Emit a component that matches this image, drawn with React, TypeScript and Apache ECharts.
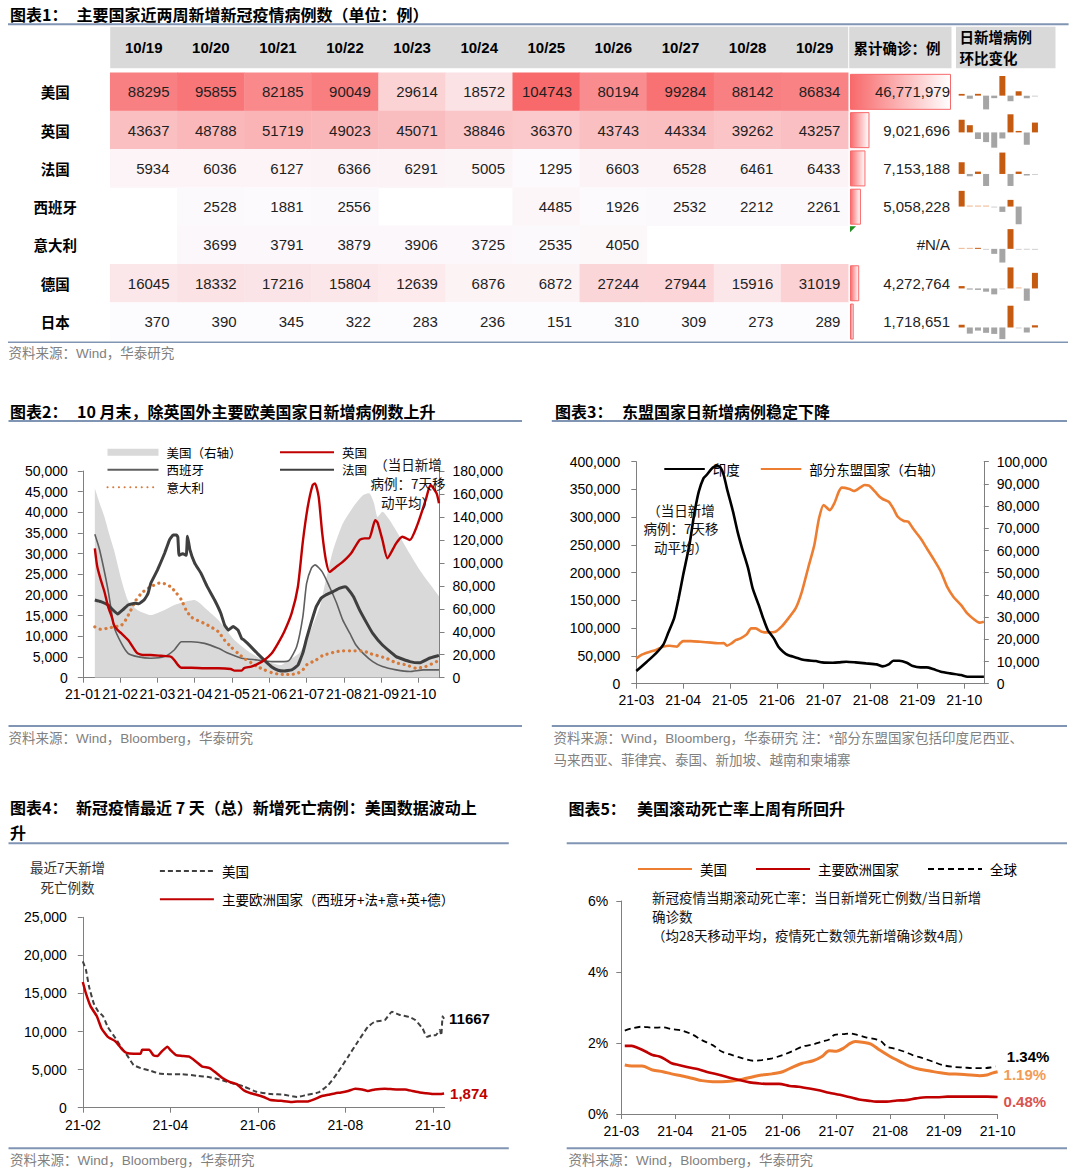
import React, { useEffect, useRef } from 'react';
import * as echarts from 'echarts';

const LATIN = "'Liberation Sans', Arial, 'Noto Sans CJK SC', sans-serif";
const CJK = "'Noto Sans CJK SC', 'Liberation Sans', sans-serif";
const LINE_BLUE = '#8095B3';

// ---------------- 图表1 ----------------
const tableDates = ['10/19', '10/20', '10/21', '10/22', '10/23', '10/24', '10/25', '10/26', '10/27', '10/28', '10/29'];
const countries = ['美国', '英国', '法国', '西班牙', '意大利', '德国', '日本'];
const usCases = [88295, 95855, 82185, 90049, 29614, 18572, 104743, 80194, 99284, 88142, 86834];
const ukCases = [43637, 48788, 51719, 49023, 45071, 38846, 36370, 43743, 44334, 39262, 43257];
const frCases = [5934, 6036, 6127, 6366, 6291, 5005, 1295, 6603, 6528, 6461, 6433];
const esCases = [null, 2528, 1881, 2556, null, null, 4485, 1926, 2532, 2212, 2261];
const itCases = [null, 3699, 3791, 3879, 3906, 3725, 2535, 4050, null, null, null];
const deCases = [16045, 18332, 17216, 15804, 12639, 6876, 6872, 27244, 27944, 15916, 31019];
const jpCases = [370, 390, 345, 322, 283, 236, 151, 310, 309, 273, 289];
const cumulative = [46771979, 9021696, 7153188, 5058228, null, 4272764, 1718651];
// 日新增病例环比变化 (sparklines)
const usSpark = [7560, -13670, 7864, -60435, -11042, 86171, -24549, 19090, -11142, -1308];
const ukSpark = [5151, 2931, -2696, -3952, -6225, -2476, 7373, 591, -5072, 3995];
const frSpark = [35, -7, 7, -36, null, 64, -36, 7, -5, -1];
const esSpark = [47, 1, 1, 1, -1, -16, 20, -53, null, null];
const itSpark = [1, 1, 3, -1, -15, -41, 59, -1, -1, -1];
const deSpark = [2287, -1116, -1412, -3165, -5763, -4, 20372, 700, -12028, 15103];
const jpSpark = [20, -45, -23, -39, -47, -85, 159, -1, -36, 16];

// ---------------- 图表2 ----------------
const months2 = ['21-01', '21-02', '21-03', '21-04', '21-05', '21-06', '21-07', '21-08', '21-09', '21-10'];
const us2 = [['01-11', 165000], ['01-15', 152000], ['01-19', 140000], ['01-23', 125000], ['01-27', 111000], ['02-02', 85000], ['02-07', 67000], ['02-14', 59000], ['02-24', 54600], ['03-07', 59000], ['03-15', 63300], ['03-23', 66000], ['04-01', 67700], ['04-05', 65000], ['04-10', 60000], ['04-20', 50200], ['05-03', 32800], ['05-17', 21200], ['05-31', 13900], ['06-10', 11000], ['06-17', 15400], ['06-25', 21200], ['07-01', 32800], ['07-12', 61800], ['07-17', 85000], ['07-23', 111000], ['07-31', 134000], ['08-09', 149000], ['08-17', 159000], ['08-22', 160600], ['08-26', 152000], ['08-29', 140000], ['09-02', 144600], ['09-08', 137000], ['09-16', 122800], ['09-24', 108000], ['10-02', 93800], ['10-10', 82200], ['10-18', 71000]];
const uk2 = [['01-11', 31300], ['01-13', 26900], ['01-16', 23600], ['01-19', 20800], ['01-22', 17200], ['01-25', 14800], ['01-27', 12700], ['01-30', 11500], ['02-02', 10700], ['02-07', 9100], ['02-12', 6700], ['02-14', 5900], ['02-18', 5500], ['02-24', 5500], ['03-04', 5300], ['03-12', 5100], ['03-15', 4300], ['03-18', 3100], ['03-21', 2400], ['03-29', 2400], ['04-09', 2300], ['04-20', 2300], ['04-30', 2100], ['05-03', 1700], ['05-09', 1700], ['05-11', 2300], ['05-17', 2700], ['05-22', 3300], ['05-28', 4300], ['06-03', 5900], ['06-08', 8300], ['06-13', 11100], ['06-19', 15600], ['06-24', 22000], ['06-28', 33000], ['07-02', 41400], ['07-06', 46600], ['07-08', 47000], ['07-11', 43800], ['07-14', 34900], ['07-17', 28500], ['07-20', 25600], ['07-26', 26900], ['07-31', 28000], ['08-07', 30100], ['08-14', 33300], ['08-18', 33700], ['08-22', 33700], ['08-27', 38100], ['08-29', 37500], ['09-02', 33300], ['09-06', 28900], ['09-13', 32500], ['09-18', 34100], ['09-24', 33300], ['09-30', 36900], ['10-07', 43000], ['10-11', 46600], ['10-16', 44600], ['10-18', 42200]];
const es2 = [['01-11', 34700], ['01-15', 30900], ['01-22', 21200], ['01-27', 12300], ['02-02', 8300], ['02-07', 5900], ['02-14', 5100], ['02-24', 4700], ['03-07', 5100], ['03-15', 6700], ['03-21', 8700], ['03-29', 8700], ['04-09', 8300], ['04-20', 7100], ['04-28', 5900], ['05-09', 4700], ['05-22', 4300], ['06-03', 3900], ['06-13', 3900], ['06-17', 4200], ['06-23', 7500], ['06-28', 14800], ['07-01', 22800], ['07-05', 26500], ['07-08', 27300], ['07-14', 25600], ['07-20', 22000], ['07-26', 18000], ['07-31', 14000], ['08-06', 10700], ['08-11', 7900], ['08-17', 5900], ['08-25', 3900], ['09-02', 2700], ['09-13', 1900], ['09-24', 1500], ['10-05', 1900], ['10-18', 1900]];
const fr2 = [['01-11', 18800], ['01-16', 18400], ['01-22', 17600], ['01-26', 16400], ['01-30', 15400], ['02-03', 16400], ['02-07', 17600], ['02-12', 18000], ['02-15', 17900], ['02-19', 18800], ['02-22', 20400], ['02-24', 22800], ['03-01', 26000], ['03-07', 30100], ['03-11', 33300], ['03-14', 34500], ['03-17', 34500], ['03-18', 34000], ['03-19', 29600], ['03-22', 30000], ['03-25', 29600], ['03-26', 34200], ['03-28', 31000], ['04-01', 27700], ['04-06', 25300], ['04-11', 22100], ['04-17', 18800], ['04-22', 15600], ['04-25', 12800], ['04-28', 11500], ['05-02', 12400], ['05-06', 11500], ['05-09', 9500], ['05-11', 9100], ['05-14', 8300], ['05-18', 7100], ['05-22', 5900], ['05-28', 4200], ['06-03', 2600], ['06-08', 1800], ['06-13', 1600], ['06-19', 1900], ['06-24', 3000], ['06-28', 6000], ['07-01', 9500], ['07-05', 13500], ['07-09', 17200], ['07-13', 19200], ['07-17', 20000], ['07-23', 20800], ['07-28', 21600], ['08-02', 22000], ['08-04', 21600], ['08-09', 19600], ['08-14', 16400], ['08-20', 13200], ['08-25', 10700], ['09-02', 7900], ['09-13', 5100], ['09-24', 3900], ['10-02', 3600], ['10-10', 4700], ['10-17', 5300], ['10-18', 5400]];
const it2 = [['01-11', 12300], ['01-16', 11700], ['01-22', 12000], ['01-27', 12300], ['02-02', 12700], ['02-05', 13900], ['02-09', 16300], ['02-13', 18800], ['02-17', 20400], ['02-20', 21200], ['02-24', 22000], ['02-28', 22600], ['03-04', 23000], ['03-08', 22600], ['03-12', 22000], ['03-17', 20400], ['03-21', 18800], ['03-25', 16300], ['03-29', 14700], ['04-03', 13900], ['04-09', 13100], ['04-14', 12300], ['04-20', 11100], ['04-25', 9100], ['04-30', 7500], ['05-06', 5900], ['05-11', 4700], ['05-17', 3600], ['05-22', 2700], ['05-28', 1900], ['06-03', 1200], ['06-08', 900], ['06-13', 800], ['06-19', 800], ['06-24', 1100], ['06-28', 1900], ['07-01', 3100], ['07-09', 4300], ['07-14', 5300], ['07-23', 6100], ['07-31', 6500], ['08-09', 6500], ['08-17', 6500], ['08-22', 5900], ['08-27', 5500], ['09-05', 4700], ['09-13', 3600], ['09-21', 3100], ['09-29', 2300], ['10-07', 2700], ['10-16', 3900], ['10-18', 4100]];

// ---------------- 图表3 ----------------
const months3 = ['21-03', '21-04', '21-05', '21-06', '21-07', '21-08', '21-09', '21-10'];
const india3 = [['03-01', 22800], ['03-08', 39600], ['03-14', 54700], ['03-19', 70900], ['03-22', 90700], ['03-26', 117700], ['03-29', 153800], ['04-01', 195800], ['04-05', 249800], ['04-08', 303900], ['04-11', 346000], ['04-14', 370000], ['04-16', 376000], ['04-19', 386800], ['04-21', 391000], ['04-23', 392000], ['04-25', 389000], ['04-27', 376000], ['04-29', 352000], ['05-03', 310000], ['05-06', 274000], ['05-09', 244000], ['05-13', 207800], ['05-16', 171800], ['05-20', 141700], ['05-23', 117700], ['05-26', 96700], ['05-30', 81700], ['06-02', 66700], ['06-05', 57700], ['06-08', 51700], ['06-13', 47400], ['06-17', 43800], ['06-21', 42000], ['06-26', 40800], ['06-30', 38400], ['07-07', 37800], ['07-11', 38400], ['07-16', 39600], ['07-22', 38400], ['07-29', 36600], ['08-05', 34800], ['08-09', 31200], ['08-13', 34800], ['08-16', 41400], ['08-20', 41400], ['08-25', 37800], ['08-29', 31800], ['09-03', 29400], ['09-07', 29400], ['09-11', 26400], ['09-16', 21600], ['09-22', 18600], ['09-29', 15600], ['10-03', 12600], ['10-08', 12600], ['10-14', 12600]];
const asean3 = [['03-01', 11400], ['03-05', 13200], ['03-10', 14400], ['03-14', 15200], ['03-19', 16700], ['03-23', 17100], ['03-28', 16700], ['03-30', 18200], ['04-01', 19200], ['04-06', 19200], ['04-12', 18900], ['04-19', 18500], ['04-23', 18200], ['04-27', 18300], ['04-29', 17100], ['05-02', 18200], ['05-05', 19700], ['05-08', 20400], ['05-12', 22200], ['05-15', 24900], ['05-18', 24900], ['05-22', 23400], ['05-26', 23100], ['05-31', 23400], ['06-04', 25700], ['06-08', 29100], ['06-13', 33900], ['06-17', 41400], ['06-21', 52000], ['06-25', 62500], ['06-28', 74500], ['07-01', 80500], ['07-05', 78200], ['07-08', 81200], ['07-11', 86500], ['07-13', 88300], ['07-18', 87700], ['07-21', 86800], ['07-25', 88300], ['07-28', 89500], ['07-31', 89200], ['08-04', 86500], ['08-07', 84200], ['08-09', 83200], ['08-13', 82000], ['08-16', 79000], ['08-19', 75200], ['08-23', 73300], ['08-26', 73000], ['08-29', 70000], ['09-03', 65500], ['09-07', 61000], ['09-11', 56500], ['09-16', 50500], ['09-20', 43700], ['09-24', 39200], ['09-29', 35400], ['10-03', 31700], ['10-08', 28700], ['10-11', 27500], ['10-14', 27900]];

// ---------------- 图表4 ----------------
const months4 = ['21-02', '21-04', '21-06', '21-08', '21-10'];
const us4 = [['02-01', 19200], ['02-03', 18100], ['02-05', 15900], ['02-08', 13700], ['02-11', 12600], ['02-14', 12000], ['02-17', 10600], ['02-22', 9100], ['02-26', 7800], ['03-02', 6700], ['03-06', 5600], ['03-11', 5200], ['03-17', 4900], ['03-24', 4500], ['03-31', 4400], ['04-09', 4400], ['04-19', 4200], ['04-28', 4000], ['05-05', 3700], ['05-12', 3300], ['05-22', 2800], ['05-31', 2100], ['06-10', 1800], ['06-19', 1700], ['06-28', 1400], ['07-05', 1700], ['07-13', 2000], ['07-20', 3000], ['07-27', 4700], ['08-03', 6700], ['08-10', 8700], ['08-17', 10600], ['08-22', 11300], ['08-29', 11500], ['09-03', 12600], ['09-08', 12200], ['09-15', 11900], ['09-19', 11500], ['09-24', 10400], ['09-27', 9300], ['09-30', 9500], ['10-03', 9500], ['10-06', 10200], ['10-07', 9500], ['10-08', 12000], ['10-09', 11667]];
const eu4 = [['02-01', 16500], ['02-03', 15000], ['02-06', 13300], ['02-10', 12000], ['02-13', 10400], ['02-17', 9300], ['02-22', 8700], ['02-26', 7700], ['03-01', 7200], ['03-06', 7100], ['03-11', 7100], ['03-12', 7600], ['03-17', 7600], ['03-20', 6900], ['03-23', 6800], ['03-26', 7400], ['03-30', 8000], ['04-01', 7600], ['04-05', 6900], ['04-09', 6800], ['04-14', 6700], ['04-19', 6000], ['04-23', 5400], ['04-28', 5200], ['05-03', 4500], ['05-07', 3900], ['05-12', 3400], ['05-17', 3100], ['05-22', 2300], ['05-27', 1900], ['05-31', 1700], ['06-05', 1400], ['06-10', 1000], ['06-17', 900], ['06-24', 750], ['06-28', 800], ['07-05', 800], ['07-10', 1100], ['07-15', 1500], ['07-20', 1700], ['07-25', 1900], ['07-29', 2000], ['08-03', 2200], ['08-08', 2500], ['08-13', 2400], ['08-17', 2200], ['08-22', 2400], ['08-29', 2500], ['09-06', 2400], ['09-12', 2400], ['09-17', 2200], ['09-22', 2000], ['09-26', 1900], ['10-01', 1800], ['10-06', 1800], ['10-09', 1874]];

// ---------------- 图表5 ----------------
const months5 = ['21-03', '21-04', '21-05', '21-06', '21-07', '21-08', '21-09', '21-10'];
const global5 = [['03-03', 2.35], ['03-07', 2.41], ['03-13', 2.46], ['03-19', 2.43], ['03-25', 2.44], ['03-30', 2.39], ['04-05', 2.35], ['04-11', 2.23], ['04-16', 2.08], ['04-22', 1.94], ['04-27', 1.76], ['05-03', 1.66], ['05-09', 1.57], ['05-15', 1.5], ['05-20', 1.52], ['05-26', 1.57], ['06-01', 1.66], ['06-07', 1.78], ['06-12', 1.9], ['06-18', 1.96], ['06-23', 2.04], ['06-27', 2.1], ['06-30', 2.23], ['07-05', 2.25], ['07-09', 2.27], ['07-12', 2.24], ['07-18', 2.16], ['07-24', 2.1], ['07-27', 2.04], ['07-30', 1.9], ['08-03', 1.85], ['08-09', 1.76], ['08-14', 1.66], ['08-20', 1.57], ['08-26', 1.47], ['08-31', 1.38], ['09-06', 1.33], ['09-12', 1.31], ['09-18', 1.29], ['09-23', 1.29], ['09-27', 1.31], ['09-30', 1.34]];
const us5 = [['03-03', 1.38], ['03-07', 1.35], ['03-13', 1.35], ['03-19', 1.24], ['03-25', 1.19], ['03-30', 1.13], ['04-05', 1.07], ['04-11', 1.0], ['04-16', 0.94], ['04-22', 0.91], ['04-27', 0.91], ['05-03', 0.93], ['05-09', 0.98], ['05-15', 1.05], ['05-20', 1.1], ['05-26', 1.13], ['06-01', 1.19], ['06-07', 1.33], ['06-12', 1.43], ['06-18', 1.5], ['06-23', 1.62], ['06-27', 1.78], ['07-01', 1.77], ['07-05', 1.85], ['07-09', 1.99], ['07-12', 2.04], ['07-16', 2.02], ['07-21', 1.97], ['07-26', 1.8], ['08-01', 1.62], ['08-07', 1.47], ['08-12', 1.35], ['08-18', 1.26], ['08-24', 1.21], ['08-30', 1.16], ['09-04', 1.13], ['09-10', 1.12], ['09-16', 1.1], ['09-21', 1.08], ['09-25', 1.1], ['09-28', 1.15], ['10-01', 1.19]];
const eu5 = [['03-03', 1.92], ['03-07', 1.92], ['03-11', 1.85], ['03-15', 1.76], ['03-19', 1.66], ['03-23', 1.62], ['03-27', 1.52], ['03-30', 1.43], ['04-03', 1.38], ['04-09', 1.31], ['04-14', 1.26], ['04-20', 1.17], ['04-26', 1.1], ['05-01', 1.03], ['05-07', 0.96], ['05-13', 0.89], ['05-19', 0.86], ['05-24', 0.85], ['05-30', 0.85], ['06-05', 0.79], ['06-10', 0.77], ['06-16', 0.72], ['06-22', 0.66], ['06-27', 0.6], ['07-03', 0.54], ['07-09', 0.47], ['07-14', 0.41], ['07-20', 0.37], ['07-24', 0.35], ['07-30', 0.35], ['08-05', 0.38], ['08-10', 0.39], ['08-16', 0.44], ['08-22', 0.47], ['08-28', 0.47], ['09-03', 0.49], ['09-08', 0.49], ['09-14', 0.49], ['09-19', 0.49], ['09-25', 0.49], ['10-01', 0.48]];

// ---------------- helpers ----------------
const DIM = [31, 28, 31, 30, 31, 30, 31, 31, 30, 31, 30, 31];
function toM(d: string, base: number) {
  const [mm, dd] = d.split('-').map(Number);
  return mm - base + (dd - 1) / DIM[mm - 1];
}
function pts(arr: any[], base: number) {
  return arr.map(([d, v]) => [toM(d, base), v]);
}
const fmtK = (v: number) => Math.round(v).toLocaleString('en-US');

const axisLine = { show: true, onZero: false, lineStyle: { color: '#7F7F7F', width: 1 } };
const axisTick = (extra: any = {}) => ({ show: true, length: 5, inside: false, lineStyle: { color: '#7F7F7F', width: 1 }, ...extra });
const axisLbl = (extra: any = {}) => ({ fontFamily: LATIN, fontSize: 14, color: '#000', ...extra });

function txt(x: number, y: number, text: string, o: any = {}) {
  return {
    type: 'text', x, y, silent: true, z: 50,
    style: { text, fill: '#000', fontSize: 16, fontFamily: CJK, fontWeight: 'normal', align: 'left', verticalAlign: 'middle', ...o },
  };
}
function hline(x1: number, x2: number, y: number, color = LINE_BLUE, w = 2) {
  return { type: 'line', silent: true, z: 50, shape: { x1, y1: y, x2, y2: y }, style: { stroke: color, lineWidth: w } };
}

function buildOption() {
  const grid: any[] = [];
  const xAxis: any[] = [];
  const yAxis: any[] = [];
  const series: any[] = [];

  const T_TOP = 72.7;
  const T_H = 268;
  const ROW_H = T_H / 7;

  // ---- table heatmap ----
  grid.push({ left: 110.2, top: T_TOP, width: 738, height: T_H });
  xAxis.push({
    type: 'category', gridIndex: 0, data: tableDates, position: 'top', z: 10,
    axisLine: { show: false }, axisTick: { show: false }, splitLine: { show: false },
    axisLabel: { fontFamily: LATIN, fontWeight: 'bold', fontSize: 15, color: '#000', margin: 18 },
  });
  yAxis.push({
    type: 'category', gridIndex: 0, data: countries, inverse: true, z: 10,
    axisLine: { show: false }, axisTick: { show: false }, splitLine: { show: false },
    axisLabel: { fontFamily: CJK, fontWeight: 'bold', fontSize: 14.5, color: '#000', align: 'center', margin: 55 },
  });
  const tableRows = [usCases, ukCases, frCases, esCases, itCases, deCases, jpCases];
  const heat: any[] = [];
  tableRows.forEach((row, yi) => row.forEach((v, xi) => { if (v != null) heat.push([xi, yi, v]); }));
  series.push({
    type: 'heatmap', name: 'table', xAxisIndex: 0, yAxisIndex: 0, data: heat, silent: true,
    itemStyle: { borderWidth: 0 },
    label: { show: true, position: 'insideRight', distance: 8, fontFamily: LATIN, fontSize: 15, color: '#1F1F1F', formatter: (p: any) => String(p.value[2]) },
    emphasis: { disabled: true },
  });

  // ---- cumulative data bars ----
  const gCum = grid.length;
  grid.push({ left: 850, top: T_TOP, width: 101, height: T_H });
  const xCum = xAxis.length;
  xAxis.push({ type: 'value', gridIndex: gCum, min: 0, max: Math.max(...(cumulative.filter((v) => v != null) as number[])), show: false });
  const yCum = yAxis.length;
  yAxis.push({ type: 'category', gridIndex: gCum, data: countries, inverse: true, show: false });
  yAxis.push({
    type: 'category', gridIndex: gCum, position: 'right', inverse: true, z: 10,
    data: cumulative.map((v) => (v == null ? '#N/A' : v.toLocaleString('en-US'))),
    axisLine: { show: false }, axisTick: { show: false }, splitLine: { show: false },
    axisLabel: { inside: true, margin: 1, fontFamily: LATIN, fontSize: 15, color: '#1F1F1F' },
  });
  series.push({
    type: 'bar', name: 'cum', xAxisIndex: xCum, yAxisIndex: yCum, silent: true, barWidth: 36,
    data: cumulative.map((v) => (v == null ? '-' : v)),
    itemStyle: {
      color: { type: 'linear', x: 0, y: 0, x2: 1, y2: 0, colorStops: [{ offset: 0, color: '#F8696B' }, { offset: 1, color: '#FFFFFF' }] },
      borderColor: '#F8696B', borderWidth: 1,
    },
  });

  // ---- sparklines ----
  const sparkRows = [usSpark, ukSpark, frSpark, esSpark, itSpark, deSpark, jpSpark];
  sparkRows.forEach((arr, i) => {
    const gi = grid.length;
    grid.push({ left: 957.6, top: T_TOP + ROW_H * i + 3.3, width: 81.4, height: 33.4 });
    const xi = xAxis.length;
    xAxis.push({ type: 'category', gridIndex: gi, data: arr.map((_, k) => String(k)), show: false });
    const vals = arr.filter((v) => v != null) as number[];
    const mn = Math.min(...vals);
    const mx = Math.max(...vals);
    const range = mx - mn;
    const yi = yAxis.length;
    yAxis.push({ type: 'value', gridIndex: gi, min: mn, max: mx, show: false, splitLine: { show: false } });
    series.push({
      type: 'bar', name: 'spark' + i, xAxisIndex: xi, yAxisIndex: yi, silent: true, barWidth: 6, barMinHeight: 1,
      data: arr.map((v) => {
        if (v == null) return '-';
        const small = Math.abs(v) / range < 0.03;
        const color = v >= 0 ? (small ? '#EFB48C' : '#C55A11') : (small ? '#CFCFCF' : '#A5A5A5');
        return { value: v, itemStyle: { color } };
      }),
    });
  });

  // ---- chart 2 ----
  const g2 = grid.length;
  grid.push({ left: 82.8, top: 471, width: 356.7, height: 206.7 });
  const x2 = xAxis.length;
  const ticks2 = months2.map((_, i) => i);
  xAxis.push({
    type: 'value', gridIndex: g2, min: 0, max: 9.563, interval: 1,
    axisLine, axisTick: axisTick({ customValues: ticks2 }), splitLine: { show: false },
    axisLabel: axisLbl({ margin: 9, customValues: ticks2, formatter: (v: number) => months2[Math.round(v)] ?? '' }),
  });
  const y2L = yAxis.length;
  yAxis.push({
    type: 'value', gridIndex: g2, position: 'left', min: 0, max: 50000, interval: 5000,
    axisLine, axisTick: axisTick(), splitLine: { show: false },
    axisLabel: axisLbl({ margin: 15, formatter: fmtK }),
  });
  const y2R = yAxis.length;
  yAxis.push({
    type: 'value', gridIndex: g2, position: 'right', min: 0, max: 180000, interval: 20000,
    axisLine, axisTick: axisTick(), splitLine: { show: false },
    axisLabel: axisLbl({ margin: 13, formatter: fmtK }),
  });
  const lineBase = { type: 'line', symbol: 'none', showSymbol: false, silent: true, smooth: 0.2 };
  series.push({ ...lineBase, name: '美国（右轴）', xAxisIndex: x2, yAxisIndex: y2R, data: pts(us2, 1), lineStyle: { width: 0, color: '#D9D9D9' }, itemStyle: { color: '#D9D9D9' }, areaStyle: { color: '#D9D9D9', opacity: 1 }, z: 1 });
  series.push({ ...lineBase, name: '西班牙', xAxisIndex: x2, yAxisIndex: y2L, data: pts(es2, 1), lineStyle: { width: 1.6, color: '#5F5F5F' }, itemStyle: { color: '#5F5F5F' }, z: 3 });
  series.push({ ...lineBase, name: '意大利', xAxisIndex: x2, yAxisIndex: y2L, data: pts(it2, 1), lineStyle: { width: 3.2, color: '#D67A3C', type: [0.1, 5.6], cap: 'round' }, itemStyle: { color: '#D67A3C' }, z: 3 });
  series.push({ ...lineBase, name: '法国', xAxisIndex: x2, yAxisIndex: y2L, data: pts(fr2, 1), smooth: 0.1, lineStyle: { width: 3, color: '#3F3F3F' }, itemStyle: { color: '#3F3F3F' }, z: 4 });
  series.push({ ...lineBase, name: '英国', xAxisIndex: x2, yAxisIndex: y2L, data: pts(uk2, 1), lineStyle: { width: 2.4, color: '#C00000' }, itemStyle: { color: '#C00000' }, z: 5 });

  // ---- chart 3 ----
  const g3 = grid.length;
  grid.push({ left: 636.3, top: 461.7, width: 347.5, height: 222 });
  const x3 = xAxis.length;
  const ticks3 = months3.map((_, i) => i);
  xAxis.push({
    type: 'value', gridIndex: g3, min: 0, max: 7.417, interval: 1,
    axisLine, axisTick: axisTick({ customValues: ticks3 }), splitLine: { show: false },
    axisLabel: axisLbl({ margin: 9, customValues: ticks3, formatter: (v: number) => months3[Math.round(v)] ?? '' }),
  });
  const y3L = yAxis.length;
  yAxis.push({
    type: 'value', gridIndex: g3, position: 'left', min: 0, max: 400000, interval: 50000,
    axisLine, axisTick: axisTick(), splitLine: { show: false },
    axisLabel: axisLbl({ margin: 16, formatter: fmtK }),
  });
  const y3R = yAxis.length;
  yAxis.push({
    type: 'value', gridIndex: g3, position: 'right', min: 0, max: 100000, interval: 10000,
    axisLine, axisTick: axisTick(), splitLine: { show: false },
    axisLabel: axisLbl({ margin: 13, formatter: fmtK }),
  });
  series.push({ ...lineBase, name: '部分东盟国家（右轴）', xAxisIndex: x3, yAxisIndex: y3R, data: pts(asean3, 3), lineStyle: { width: 2.6, color: '#ED7D31' }, itemStyle: { color: '#ED7D31' }, z: 3 });
  series.push({ ...lineBase, name: '印度', xAxisIndex: x3, yAxisIndex: y3L, data: pts(india3, 3), lineStyle: { width: 2.6, color: '#000000' }, itemStyle: { color: '#000000' }, z: 4 });

  // ---- chart 4 ----
  const g4 = grid.length;
  grid.push({ left: 82.8, top: 917.3, width: 361.8, height: 190.4 });
  const x4 = xAxis.length;
  const ticks4 = months4.map((_, i) => i * 2);
  xAxis.push({
    type: 'value', gridIndex: g4, min: 0, max: 8.27, interval: 2,
    axisLine, axisTick: axisTick({ customValues: ticks4 }), splitLine: { show: false },
    axisLabel: axisLbl({ margin: 10, customValues: ticks4, formatter: (v: number) => months4[Math.round(v / 2)] ?? '' }),
  });
  const y4 = yAxis.length;
  yAxis.push({
    type: 'value', gridIndex: g4, position: 'left', min: 0, max: 25000, interval: 5000,
    axisLine, axisTick: axisTick(), splitLine: { show: false },
    axisLabel: axisLbl({ margin: 16, formatter: fmtK }),
  });
  series.push({
    ...lineBase, name: '美国|4', xAxisIndex: x4, yAxisIndex: y4, data: pts(us4, 2), smooth: 0.15,
    lineStyle: { width: 2, color: '#404040', type: [5, 3] }, itemStyle: { color: '#404040' }, z: 3,
    endLabel: { show: true, distance: 5, formatter: (p: any) => String(p.value[1]), fontFamily: LATIN, fontWeight: 'bold', fontSize: 15, color: '#000' },
  });
  series.push({
    ...lineBase, name: '主要欧洲国家（西班牙+法+意+英+德）', xAxisIndex: x4, yAxisIndex: y4, data: pts(eu4, 2), smooth: 0.15,
    lineStyle: { width: 2.5, color: '#C00000' }, itemStyle: { color: '#C00000' }, z: 4,
    endLabel: { show: true, distance: 6, formatter: (p: any) => fmtK(p.value[1]), fontFamily: LATIN, fontWeight: 'bold', fontSize: 15, color: '#C00000' },
  });

  // ---- chart 5 ----
  const g5 = grid.length;
  grid.push({ left: 621.3, top: 901, width: 376.3, height: 213 });
  const x5 = xAxis.length;
  const ticks5 = months5.map((_, i) => i);
  xAxis.push({
    type: 'value', gridIndex: g5, min: 0, max: 7, interval: 1,
    axisLine, axisTick: axisTick({ customValues: ticks5 }), splitLine: { show: false },
    axisLabel: axisLbl({ margin: 10, customValues: ticks5, formatter: (v: number) => months5[Math.round(v)] ?? '' }),
  });
  const y5 = yAxis.length;
  yAxis.push({
    type: 'value', gridIndex: g5, position: 'left', min: 0, max: 6, interval: 2,
    axisLine, axisTick: axisTick(), splitLine: { show: false },
    axisLabel: axisLbl({ margin: 13, formatter: (v: number) => v + '%' }),
  });
  const pctLbl = (color: string, offset: number[], distance: number) => ({
    show: true, distance, offset, formatter: (p: any) => p.value[1].toFixed(2) + '%',
    fontFamily: LATIN, fontWeight: 'bold', fontSize: 15, color,
  });
  series.push({ ...lineBase, name: '全球', xAxisIndex: x5, yAxisIndex: y5, data: pts(global5, 3), smooth: 0.3, lineStyle: { width: 1.8, color: '#000000', type: [6, 4] }, itemStyle: { color: '#000000' }, z: 3, endLabel: pctLbl('#000000', [0, -10], 11) });
  series.push({ ...lineBase, name: '美国|5', xAxisIndex: x5, yAxisIndex: y5, data: pts(us5, 3), smooth: 0.3, lineStyle: { width: 3, color: '#ED7D31' }, itemStyle: { color: '#ED7D31' }, z: 4, endLabel: pctLbl('#F29B55', [0, 3], 6) });
  series.push({ ...lineBase, name: '主要欧洲国家', xAxisIndex: x5, yAxisIndex: y5, data: pts(eu5, 3), smooth: 0.3, lineStyle: { width: 2.6, color: '#C00000' }, itemStyle: { color: '#C00000' }, z: 4, endLabel: pctLbl('#D9534F', [0, 5], 6) });

  // ---- legends ----
  const legCommon = {
    selectedMode: false, padding: 0, itemHeight: 14,
    itemStyle: { opacity: 0 },
    textStyle: { fontFamily: CJK, fontSize: 13.5, lineHeight: 14, color: '#000', padding: [0, 0, 0, 3] },
    formatter: (n: string) => n.split('|')[0],
  };
  const stacked = { textStyle: { ...legCommon.textStyle, fontSize: 12.5, lineHeight: 13 } };
  const legend = [
    { ...legCommon, ...stacked, left: 106.5, top: 445.8, orient: 'vertical', itemWidth: 51, itemGap: 4.5,
      data: [{ name: '美国（右轴）', icon: 'path://M0,0H51V7H0Z', itemStyle: { color: '#D9D9D9', opacity: 1 } }, '西班牙', '意大利'] },
    { ...legCommon, ...stacked, left: 279, top: 445.8, orient: 'vertical', itemWidth: 54, itemGap: 4.5, data: ['英国', '法国'] },
    { ...legCommon, left: 663.3, top: 462, orient: 'horizontal', itemWidth: 40.5, itemGap: 20, data: ['印度', '部分东盟国家（右轴）'] },
    { ...legCommon, left: 158.9, top: 864, orient: 'vertical', itemWidth: 54, itemGap: 14.3, data: ['美国|4', '主要欧洲国家（西班牙+法+意+英+德）'] },
    { ...legCommon, left: 637, top: 862, orient: 'horizontal', itemWidth: 54, itemGap: 28, data: ['美国|5', '主要欧洲国家', '全球'] },
  ];

  // ---- graphic ----
  const TB = { fontWeight: 'bold', fontSize: 16, fontFamily: CJK };
  const src = { fontSize: 13.5, fontFamily: LATIN, fill: '#808080' };
  const note = { fontSize: 13.5, fontFamily: CJK, fill: '#111' };
  const elements: any[] = [
    // header backgrounds
    { type: 'rect', silent: true, z: 0, shape: { x: 110.2, y: 26.7, width: 738, height: 41.6 }, style: { fill: '#D9D9D9' } },
    { type: 'rect', silent: true, z: 0, shape: { x: 849.2, y: 26.7, width: 102.3, height: 41.6 }, style: { fill: '#D9D9D9' } },
    { type: 'rect', silent: true, z: 0, shape: { x: 956, y: 26.7, width: 99.5, height: 41.6 }, style: { fill: '#D9D9D9' } },
    txt(853.4, 47.5, '累计确诊：例', { fontSize: 14.5, fontWeight: 'bold' }),
    txt(959.4, 36, '日新增病例', { fontSize: 14.5, fontWeight: 'bold' }),
    txt(959.4, 57, '环比变化', { fontSize: 14.5, fontWeight: 'bold' }),
    { type: 'polygon', silent: true, z: 50, shape: { points: [[850, 226.3], [856, 226.3], [850, 232.3]] }, style: { fill: '#1E8C1E' } },
    // titles
    txt(10, 14, '图表1：', TB), txt(76.4, 14, '主要国家近两周新增新冠疫情病例数（单位：例）', TB),
    txt(10, 411, '图表2：', TB), txt(77, 411, '10 月末，除英国外主要欧美国家日新增病例数上升', TB),
    txt(555, 411, '图表3：', TB), txt(622, 411, '东盟国家日新增病例稳定下降', TB),
    txt(10, 806.7, '图表4：', TB), txt(76, 806.7, '新冠疫情最近 7 天（总）新增死亡病例：美国数据波动上', TB),
    txt(10, 831.7, '升', TB),
    txt(568.4, 808.3, '图表5：', TB), txt(637, 808.3, '美国滚动死亡率上周有所回升', TB),
    // rules
    hline(8, 1068.6, 24.3), hline(8, 1068, 342.3, LINE_BLUE, 1.5),
    hline(8.5, 522, 421), hline(8.5, 522, 726),
    hline(551.8, 1067, 421), hline(551.8, 1067, 726),
    hline(8.5, 508.8, 843.3), hline(8.5, 508.8, 1148.3),
    hline(566.7, 1067, 843.3), hline(566.7, 1067, 1148.3),
    // sources
    txt(8.6, 353.3, '资料来源：Wind，华泰研究', src),
    txt(8.5, 738.3, '资料来源：Wind，Bloomberg，华泰研究', src),
    txt(553.5, 738.3, '资料来源：Wind，Bloomberg，华泰研究 注：*部分东盟国家包括印度尼西亚、', src),
    txt(553.5, 760, '马来西亚、菲律宾、泰国、新加坡、越南和柬埔寨', src),
    txt(10, 1160, '资料来源：Wind，Bloomberg，华泰研究', src),
    txt(568.4, 1160, '资料来源：Wind，Bloomberg，华泰研究', src),
    // notes
    txt(408, 464, '（当日新增', { ...note, align: 'center' }),
    txt(408, 483, '病例：7天移', { ...note, align: 'center' }),
    txt(408, 501.7, '动平均）', { ...note, align: 'center' }),
    txt(681, 510, '（当日新增', { ...note, align: 'center' }),
    txt(681, 528.3, '病例：7天移', { ...note, align: 'center' }),
    txt(681, 546.7, '动平均）', { ...note, align: 'center' }),
    txt(67.6, 867.3, '最近7天新增', { ...note, align: 'center', fill: '#333' }),
    txt(67.6, 886.7, '死亡例数', { ...note, align: 'center', fill: '#333' }),
    txt(652, 896.7, '新冠疫情当期滚动死亡率：当日新增死亡例数/当日新增', note),
    txt(652, 915.7, '确诊数', note),
    txt(652, 935, '（均28天移动平均，疫情死亡数领先新增确诊数4周）', note),
  ];

  return {
    animation: false,
    backgroundColor: '#ffffff',
    grid,
    xAxis,
    yAxis,
    series,
    legend,
    visualMap: {
      type: 'continuous', show: false, seriesIndex: 0, dimension: 2, min: 151, max: 104743,
      inRange: { color: ['#FCFCFF', '#F8696B'] },
    },
    graphic: { elements },
  };
}

export default function App() {
  const ref = useRef<HTMLDivElement>(null);
  useEffect(() => {
    if (!ref.current) return;
    const chart = echarts.init(ref.current, null, { renderer: 'svg', width: 1080, height: 1175 });
    chart.setOption(buildOption() as any);
    return () => chart.dispose();
  }, []);
  return (
    <div
      ref={ref}
      style={{ position: 'absolute', left: 0, top: 0, width: 1080, height: 1175, background: '#fff' }}
    />
  );
}
